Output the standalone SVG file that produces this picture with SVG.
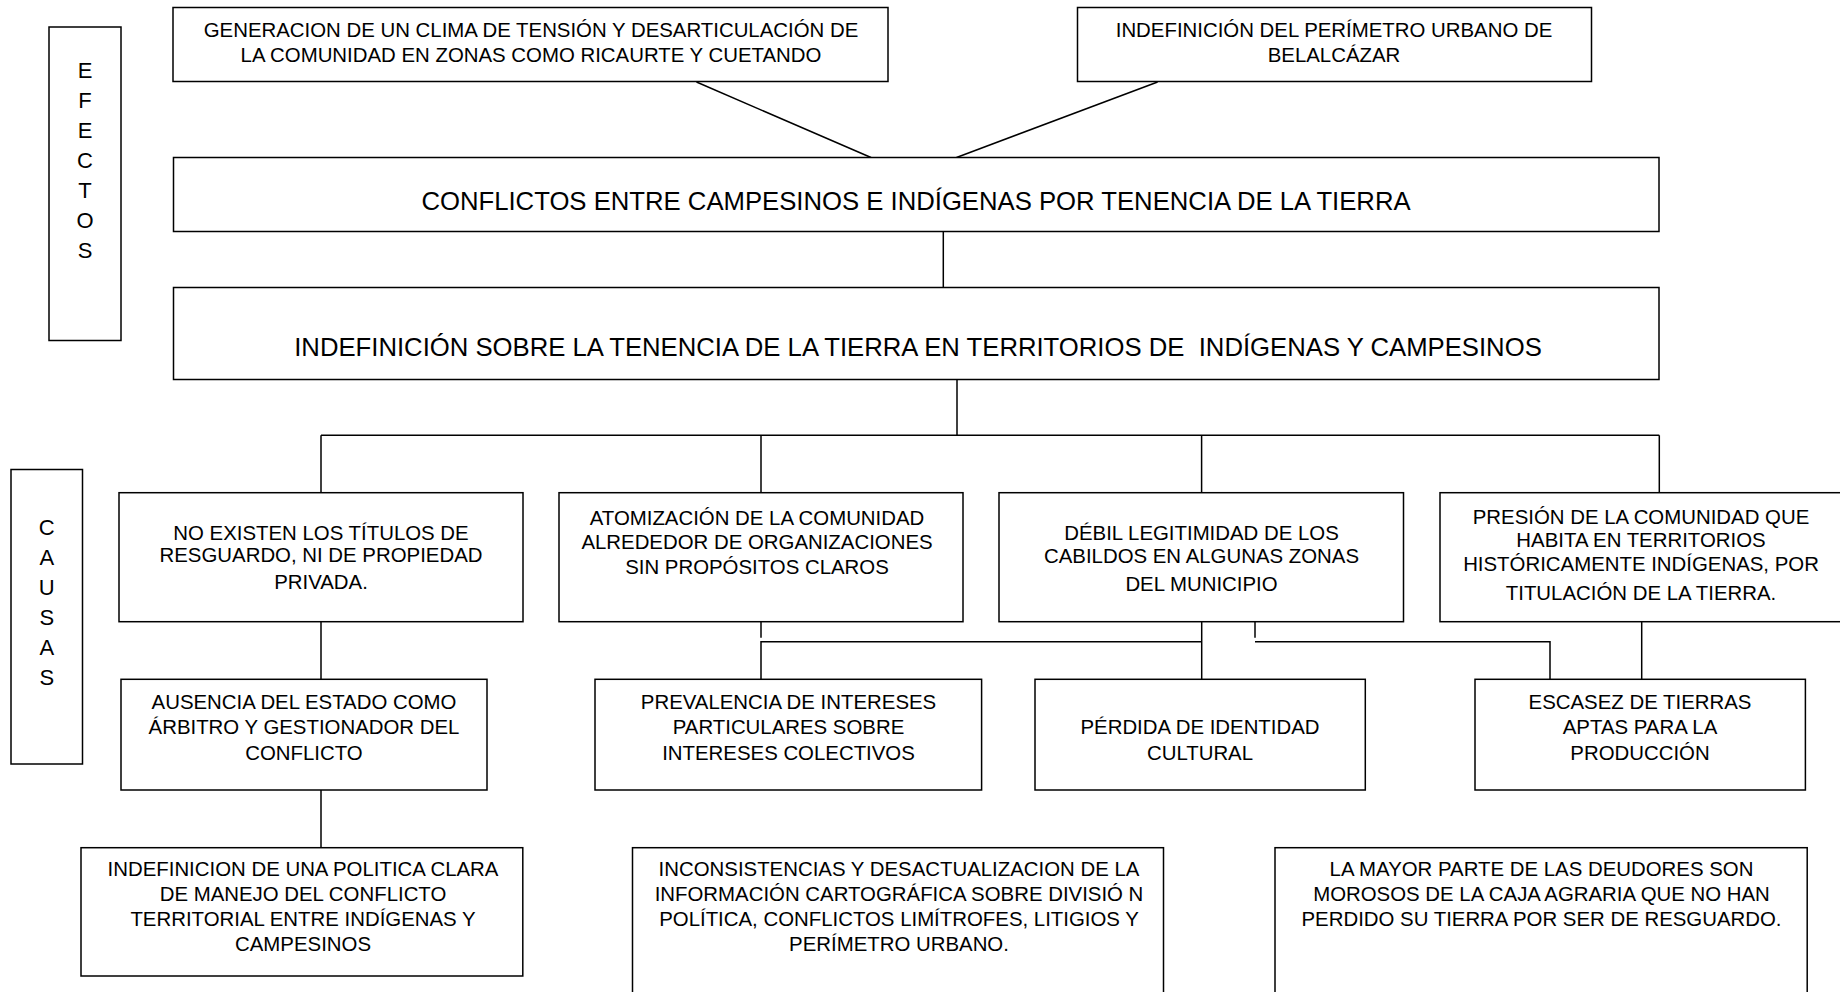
<svg xmlns="http://www.w3.org/2000/svg" width="1840" height="992" viewBox="0 0 1840 992">
<style>
.box{fill:#fff;stroke:#000;stroke-width:1.5}
.t{font-family:"Liberation Sans",Arial,sans-serif;font-size:20.4px;text-anchor:middle;fill:#000}
.big{font-size:25.7px}
.lbl{font-size:22px}
.c{stroke:#000;stroke-width:1.5;fill:none}
</style>
<rect width="1840" height="992" fill="#fff"/>
<g id="connectors" class="c">
<line x1="696.5" y1="82" x2="871" y2="157.5"/>
<line x1="1157.6" y1="82" x2="956.5" y2="157.5"/>
<line x1="943.3" y1="231.5" x2="943.3" y2="287.5"/>
<line x1="957" y1="379.5" x2="957" y2="435.3"/>
<line x1="321" y1="435.3" x2="1659.3" y2="435.3"/>
<line x1="321" y1="435.3" x2="321" y2="492.7"/>
<line x1="761" y1="435.3" x2="761" y2="492.7"/>
<line x1="1201.6" y1="435.3" x2="1201.6" y2="492.7"/>
<line x1="1659.3" y1="435.3" x2="1659.3" y2="492.7"/>
<line x1="321" y1="621.7" x2="321" y2="679.3"/>
<line x1="321" y1="790" x2="321" y2="847.7"/>
<line x1="761" y1="621.7" x2="761" y2="637.7"/>
<path d="M761 679.3V641.7H1201.7"/>
<line x1="1201.7" y1="621.7" x2="1201.7" y2="679.3"/>
<line x1="1255" y1="621.7" x2="1255" y2="637.7"/>
<path d="M1255 641.7H1550V679.3"/>
<line x1="1641.7" y1="621.7" x2="1641.7" y2="679.3"/>
</g>
<g id="efectos">
<rect class="box" x="49" y="27" width="72" height="313.5"/>
<text class="t lbl" x="85" y="78">E</text>
<text class="t lbl" x="85" y="108">F</text>
<text class="t lbl" x="85" y="138">E</text>
<text class="t lbl" x="85" y="168">C</text>
<text class="t lbl" x="85" y="198">T</text>
<text class="t lbl" x="85" y="228">O</text>
<text class="t lbl" x="85" y="258">S</text>
</g>
<g id="causas">
<rect class="box" x="11" y="469.5" width="71.5" height="294.5"/>
<text class="t lbl" x="46.8" y="534.6">C</text>
<text class="t lbl" x="46.8" y="564.6">A</text>
<text class="t lbl" x="46.8" y="594.6">U</text>
<text class="t lbl" x="46.8" y="624.6">S</text>
<text class="t lbl" x="46.8" y="654.6">A</text>
<text class="t lbl" x="46.8" y="684.6">S</text>
</g>
<g id="efecto1">
<rect class="box" x="173" y="7.5" width="715" height="74"/>
<text class="t" x="531" y="37">GENERACION DE UN CLIMA DE TENSIÓN Y DESARTICULACIÓN DE</text>
<text class="t" x="531" y="62">LA COMUNIDAD EN ZONAS COMO RICAURTE Y CUETANDO</text>
</g>
<g id="efecto2">
<rect class="box" x="1077.5" y="7.5" width="514" height="74"/>
<text class="t" x="1334" y="37">INDEFINICIÓN DEL PERÍMETRO URBANO DE</text>
<text class="t" x="1334" y="62">BELALCÁZAR</text>
</g>
<g id="conflictos">
<rect class="box" x="173.5" y="157.5" width="1485.5" height="74"/>
<text class="t big" x="916" y="210">CONFLICTOS ENTRE CAMPESINOS E INDÍGENAS POR TENENCIA DE LA TIERRA</text>
</g>
<g id="problema">
<rect class="box" x="173.5" y="287.5" width="1485.5" height="92"/>
<text class="t big" x="918" y="355.5" xml:space="preserve" style="white-space:pre">INDEFINICIÓN SOBRE LA TENENCIA DE LA TIERRA EN TERRITORIOS DE  INDÍGENAS Y CAMPESINOS</text>
</g>
<g id="causa1">
<rect class="box" x="119" y="492.7" width="404" height="129"/>
<text class="t" x="321" y="539.8">NO EXISTEN LOS TÍTULOS DE</text>
<text class="t" x="321" y="562.3">RESGUARDO, NI DE PROPIEDAD</text>
<text class="t" x="321" y="588.8">PRIVADA.</text>
</g>
<g id="causa2">
<rect class="box" x="559" y="492.7" width="404" height="129"/>
<text class="t" x="757" y="525.3">ATOMIZACIÓN DE LA COMUNIDAD</text>
<text class="t" x="757" y="549.3">ALREDEDOR DE ORGANIZACIONES</text>
<text class="t" x="757" y="573.8">SIN PROPÓSITOS CLAROS</text>
</g>
<g id="causa3">
<rect class="box" x="999" y="492.7" width="404.5" height="129"/>
<text class="t" x="1201.5" y="540">DÉBIL LEGITIMIDAD DE LOS</text>
<text class="t" x="1201.5" y="562.5">CABILDOS EN ALGUNAS ZONAS</text>
<text class="t" x="1201.5" y="590.5">DEL MUNICIPIO</text>
</g>
<g id="causa4">
<rect class="box" x="1440" y="492.7" width="404" height="129"/>
<text class="t" x="1641" y="523.8">PRESIÓN DE LA COMUNIDAD QUE</text>
<text class="t" x="1641" y="547.3">HABITA EN TERRITORIOS</text>
<text class="t" x="1641" y="571.3">HISTÓRICAMENTE INDÍGENAS, POR</text>
<text class="t" x="1641" y="600.3">TITULACIÓN DE LA TIERRA.</text>
</g>
<g id="ausencia">
<rect class="box" x="121" y="679.3" width="366" height="110.7"/>
<text class="t" x="304" y="709.3">AUSENCIA DEL ESTADO COMO</text>
<text class="t" x="304" y="733.8">ÁRBITRO Y GESTIONADOR DEL</text>
<text class="t" x="304" y="759.8">CONFLICTO</text>
</g>
<g id="prevalencia">
<rect class="box" x="595" y="679.3" width="386.6" height="110.7"/>
<text class="t" x="788.5" y="709.3">PREVALENCIA DE INTERESES</text>
<text class="t" x="788.5" y="733.8">PARTICULARES SOBRE</text>
<text class="t" x="788.5" y="759.8">INTERESES COLECTIVOS</text>
</g>
<g id="perdida">
<rect class="box" x="1035" y="679.3" width="330.3" height="110.7"/>
<text class="t" x="1200" y="733.8">PÉRDIDA DE IDENTIDAD</text>
<text class="t" x="1200" y="759.8">CULTURAL</text>
</g>
<g id="escasez">
<rect class="box" x="1475" y="679.3" width="330.4" height="110.7"/>
<text class="t" x="1640" y="709.3">ESCASEZ DE TIERRAS</text>
<text class="t" x="1640" y="733.8">APTAS PARA LA</text>
<text class="t" x="1640" y="759.8">PRODUCCIÓN</text>
</g>
<g id="politica">
<rect class="box" x="81" y="847.7" width="441.8" height="128.3"/>
<text class="t" x="303" y="875.8">INDEFINICION DE UNA POLITICA CLARA</text>
<text class="t" x="303" y="901.3">DE MANEJO DEL CONFLICTO</text>
<text class="t" x="303" y="926.3">TERRITORIAL ENTRE INDÍGENAS Y</text>
<text class="t" x="303" y="951.3">CAMPESINOS</text>
</g>
<g id="cartografia">
<rect class="box" x="632.5" y="847.7" width="531" height="160"/>
<text class="t" x="899" y="875.8">INCONSISTENCIAS Y DESACTUALIZACION DE LA</text>
<text class="t" x="899" y="901.3">INFORMACIÓN CARTOGRÁFICA SOBRE DIVISIÓ N</text>
<text class="t" x="899" y="926.3">POLÍTICA, CONFLICTOS LIMÍTROFES, LITIGIOS Y</text>
<text class="t" x="899" y="951.3">PERÍMETRO URBANO.</text>
</g>
<g id="deudores">
<rect class="box" x="1275" y="847.7" width="532.2" height="160"/>
<text class="t" x="1541.5" y="875.8">LA MAYOR PARTE DE LAS DEUDORES SON</text>
<text class="t" x="1541.5" y="901.3">MOROSOS DE LA CAJA AGRARIA QUE NO HAN</text>
<text class="t" x="1541.5" y="926.3">PERDIDO SU TIERRA POR SER DE RESGUARDO.</text>
</g>
</svg>
